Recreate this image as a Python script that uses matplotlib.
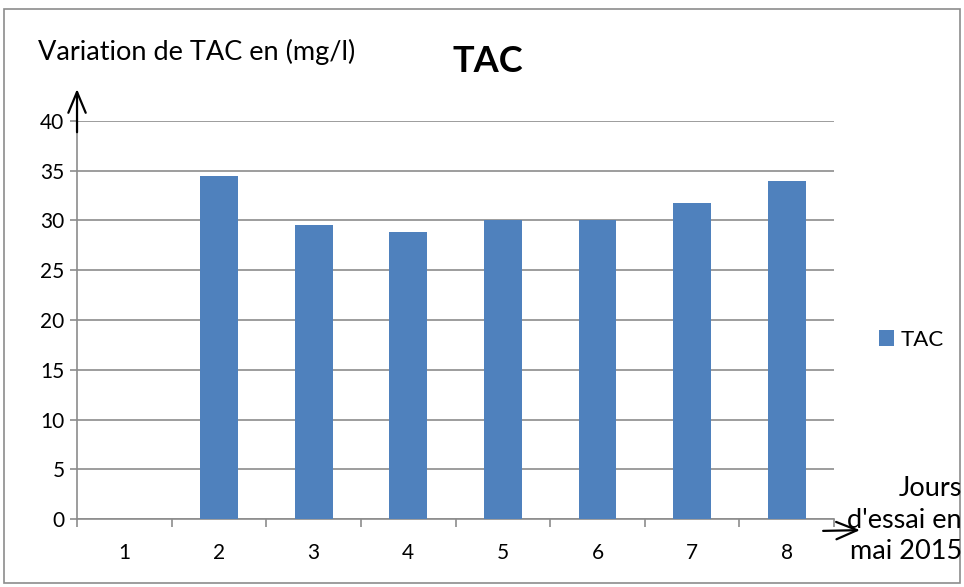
import matplotlib
matplotlib.use("Agg")
import matplotlib.pyplot as plt
from matplotlib.patches import Rectangle, FancyArrowPatch

plt.rcParams['font.family'] = ['Lato', 'DejaVu Sans']

# TAC measured each test day (day 1 has no measurement)
days = [1, 2, 3, 4, 5, 6, 7, 8]
tac = [0, 34.5, 29.5, 28.8, 30.0, 30.0, 31.8, 34.0]
yticks = [0, 5, 10, 15, 20, 25, 30, 35, 40]

bar_color = '#4F81BD'
grid_color = '#8C8C8C'

fig = plt.figure(figsize=(9.64, 5.87), dpi=100)
ax = fig.add_axes([0.0799, 0.1158, 0.7853, 0.6781])

ax.bar(days, tac, width=0.4, color=bar_color, label='TAC', zorder=3)

ax.set_xlim(0.5, 8.5)
ax.set_ylim(0, 40)
ax.set_yticks(yticks)
ax.set_xticks(days)
ax.set_xticks([d + 0.5 for d in [0] + days], minor=True)
ax.tick_params(axis='x', which='major', length=0, pad=17, labelsize=15)
ax.tick_params(axis='x', which='minor', length=6, color=grid_color, width=1.2)
ax.tick_params(axis='y', which='major', length=5, color=grid_color, width=1.2,
               pad=4, labelsize=15)
ax.yaxis.grid(True, color=grid_color, linewidth=1.2, zorder=0)
for side in ['top', 'right']:
    ax.spines[side].set_visible(False)
for side in ['left', 'bottom']:
    ax.spines[side].set_color(grid_color)
    ax.spines[side].set_linewidth(1.2)

# hand-drawn axis arrows
arrow_style = '->,head_length=0.6,head_width=0.25'
fig.add_artist(FancyArrowPatch((0.0799, 0.770), (0.0799, 0.853),
                               transform=fig.transFigure, arrowstyle=arrow_style,
                               mutation_scale=25, color='black', lw=1.6))
fig.add_artist(FancyArrowPatch((0.851, 0.0955), (0.895, 0.0970),
                               transform=fig.transFigure, arrowstyle=arrow_style,
                               mutation_scale=25, color='black', lw=1.6))

fig.text(0.506, 0.896, 'TAC', fontsize=26, fontweight='bold', ha='center', va='center')
fig.text(0.039, 0.911, 'Variation de TAC en (mg/l)', fontsize=19.5, ha='left', va='center')
fig.text(0.998, 0.114, "Jours\nd'essai en\nmai 2015", fontsize=19.5, ha='right',
         va='center', multialignment='right', linespacing=1.32)

leg = ax.legend(loc='center left', bbox_to_anchor=(0.900, 0.421),
                bbox_transform=fig.transFigure, frameon=False, borderpad=0,
                fontsize=16, handlelength=0.7, handleheight=0.7, handletextpad=0.3)

fig.add_artist(Rectangle((0.004, 0.006), 0.992, 0.978, transform=fig.transFigure,
                         fill=False, edgecolor='#8C8C8C', linewidth=1.2))

fig.savefig('out.png', dpi=100)
